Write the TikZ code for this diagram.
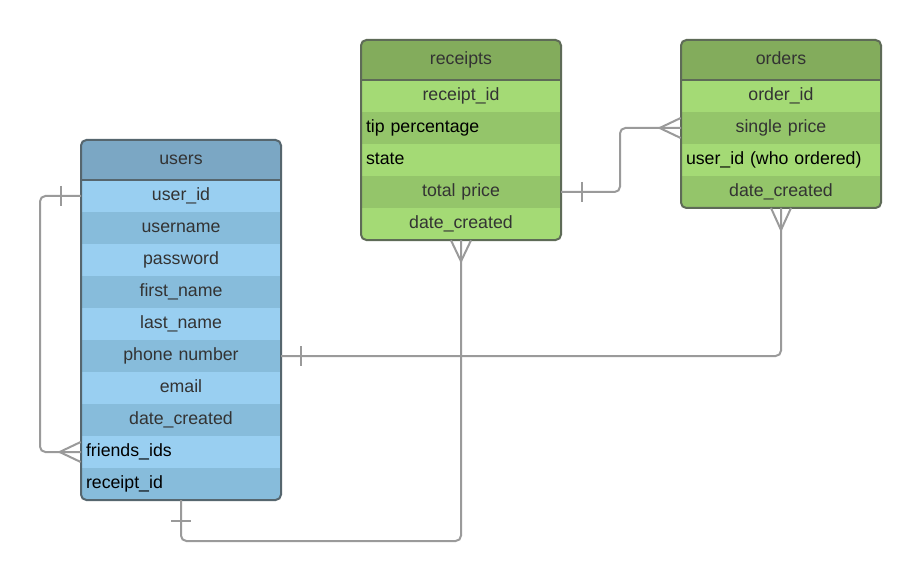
\documentclass[tikz,border=0pt]{standalone}
\usepackage{fontspec}
\setmainfont{Liberation Sans}
\usetikzlibrary{fit}
\definecolor{uhd}{HTML}{7BA7C4}
\definecolor{ulight}{HTML}{99CFF1}
\definecolor{udark}{HTML}{87BCDB}
\definecolor{uborder}{HTML}{56666E}
\definecolor{ghd}{HTML}{83AC5C}
\definecolor{glight}{HTML}{A4DA75}
\definecolor{gdark}{HTML}{94C56A}
\definecolor{gborder}{HTML}{5E6B57}
\definecolor{conncol}{HTML}{9A9A9A}
\definecolor{txt}{HTML}{333333}
\tikzset{
  cell/.style={anchor=north west, minimum height=24pt, text width=142.5pt,
    inner xsep=3.75pt, inner ysep=0pt, outer sep=0pt,
    text height=10pt, text depth=3.2pt,
    font=\fontsize{13.3}{15}\selectfont, text=txt, align=center},
  hcell/.style={cell, minimum height=30pt},
  lcell/.style={cell, align=left, text=black},
  tablebox/.style={draw, line width=1.5pt, rounded corners=4pt, inner sep=0pt, outer sep=0pt},
  sepline/.style={line width=1.5pt},
  conn/.style={draw=conncol, line width=1.5pt, rounded corners=4pt},
  tickline/.style={draw=conncol, line width=1.5pt}
}
\begin{document}
\begin{tikzpicture}[x=0.75pt,y=-0.75pt]
\useasboundingbox[fill=white] (0,0) rectangle (921,581);

% ---------- users ----------
\begin{scope}
\clip[rounded corners=4pt] (81,140) rectangle (281,500);
\node[hcell, fill=uhd] (uhead) at (81,140) {users};
\node[cell, fill=ulight] (uid)   at (81,180) {user\_id};
\node[cell, fill=udark]  (uname) at (81,212) {username};
\node[cell, fill=ulight] (upass) at (81,244) {password};
\node[cell, fill=udark]  (ufirst) at (81,276) {first\_name};
\node[cell, fill=ulight] (ulast) at (81,308) {last\_name};
\node[cell, fill=udark]  (uphone) at (81,340) {phone number};
\node[cell, fill=ulight] (umail) at (81,372) {email};
\node[cell, fill=udark]  (udate) at (81,404) {date\_created};
\node[lcell, fill=ulight] (ufriends) at (81,436) {friends\_ids};
\node[lcell, fill=udark]  (urcpt) at (81,468) {receipt\_id};
\end{scope}
\draw[sepline, draw=uborder] (uhead.south west) -- (uhead.south east);
\node[tablebox, draw=uborder, fit=(uhead)(urcpt)] (users) {};

% ---------- receipts ----------
\begin{scope}
\clip[rounded corners=4pt] (361,40) rectangle (561,240);
\node[hcell, fill=ghd] (rhead) at (361,40) {receipts};
\node[cell, fill=glight] (rid) at (361,80) {receipt\_id};
\node[lcell, fill=gdark] (rtip) at (361,112) {tip percentage};
\node[lcell, fill=glight] (rstate) at (361,144) {state};
\node[cell, fill=gdark] (rtotal) at (361,176) {total price};
\node[cell, fill=glight] (rdate) at (361,208) {date\_created};
\end{scope}
\draw[sepline, draw=gborder] (rhead.south west) -- (rhead.south east);
\node[tablebox, draw=gborder, fit=(rhead)(rdate)] (receipts) {};

% ---------- orders ----------
\begin{scope}
\clip[rounded corners=4pt] (681,40) rectangle (881,208);
\node[hcell, fill=ghd] (ohead) at (681,40) {orders};
\node[cell, fill=glight] (oid) at (681,80) {order\_id};
\node[cell, fill=gdark] (osingle) at (681,112) {single price};
\node[lcell, fill=glight] (ouser) at (681,144) {user\_id (who ordered)};
\node[cell, fill=gdark] (odate) at (681,176) {date\_created};
\end{scope}
\draw[sepline, draw=gborder] (ohead.south west) -- (ohead.south east);
\node[tablebox, draw=gborder, fit=(ohead)(odate)] (orders) {};

% ---------- connectors ----------
% users.user_id -> users.friends_ids (self)
\draw[conn] (uid.west) -- ++(-41,0) |- (ufriends.west);
\draw[tickline] ([xshift=-15pt]uid.west) ++(0,-10) -- ++(0,20);
\draw[tickline] ([xshift=-16pt]ufriends.west) -- ++(21,-10);
\draw[tickline] ([xshift=-16pt]ufriends.west) -- ++(21,10);

% users bottom -> receipts bottom
\draw[conn] (users.south) -- ++(0,41) -| (receipts.south);
\draw[tickline] ([yshift=-15.5pt]users.south) ++(-10,0) -- ++(20,0);
\draw[tickline] ([yshift=-16pt]receipts.south) -- ++(-10,-21);
\draw[tickline] ([yshift=-16pt]receipts.south) -- ++(10,-21);

% users.phone -> orders bottom
\draw[conn] (uphone.east) -| (orders.south);
\draw[tickline] ([xshift=15pt]uphone.east) ++(0,-10) -- ++(0,20);
\draw[tickline] ([yshift=-16.5pt]orders.south) -- ++(-10,-22);
\draw[tickline] ([yshift=-16.5pt]orders.south) -- ++(10,-22);

% receipts.total -> orders.single
\draw[conn] (rtotal.east) -- ++(59,0) |- (osingle.west);
\draw[tickline] ([xshift=15.5pt]rtotal.east) ++(0,-10) -- ++(0,20);
\draw[tickline] ([xshift=-16pt]osingle.west) -- ++(21,-10);
\draw[tickline] ([xshift=-16pt]osingle.west) -- ++(21,10);
\end{tikzpicture}
\end{document}
